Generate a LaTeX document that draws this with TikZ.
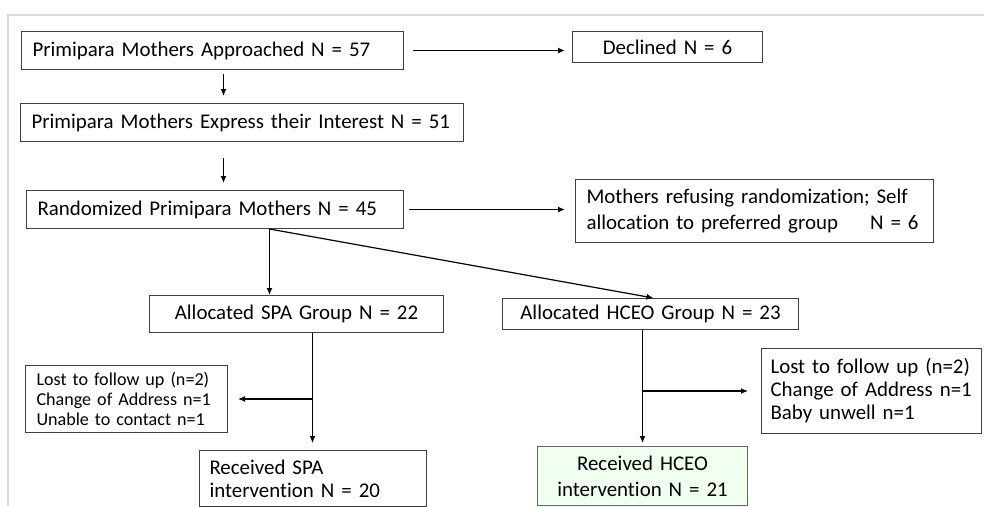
\documentclass[tikz,border=0pt]{standalone}
\usepackage{fontspec}
\setmainfont{Carlito}[Ligatures=NoCommon]
\usetikzlibrary{arrows.meta}
\begin{document}
\begin{tikzpicture}[x=1pt, y=-1pt, >={Latex[length=7pt,width=6pt]},
		main/.style = {draw=black!75, line width=1pt, inner xsep=11pt, inner ysep=0pt, anchor=north west, font=\fontsize{20.9}{26}\selectfont},
		small/.style = {main, font=\fontsize{18.1}{20}\selectfont},
		flow/.style = {->, line width=1.2pt}]
		\useasboundingbox (0,0) rectangle (984,506);
		\draw[black!15, line width=1.5pt] (8,506) -- (8,15) -- (984,15);
		\node[main, text width=360pt, minimum height=38pt, align=left] (0) at (21,31) {Primipara Mothers Approached N = 57};
		\node[main, text width=168pt, minimum height=31pt, align=center] (1) at (572,31) {Declined N = 6};
		\node[main, text width=421pt, minimum height=38pt, align=left] (2) at (20,103) {Primipara Mothers Express their Interest N = 51};
		\node[main, text width=355pt, minimum height=38pt, align=left] (3) at (26,190) {Randomized Primipara Mothers N = 45};
		\node[main, text width=336pt, minimum height=63pt, align=left] (4) at (575,179) {Mothers refusing randomization; Self\\allocation to preferred group \hspace{1.2em}N = 6};
		\node[main, text width=272pt, minimum height=37pt, align=center] (5) at (149,295) {Allocated SPA Group N = 22};
		\node[main, text width=274pt, minimum height=31pt, align=center] (6) at (502,298) {Allocated HCEO Group N = 23};
		\node[small, text width=180pt, minimum height=67pt, align=left] (7) at (25,365) {Lost to follow up (n=2)\\Change of Address n=1\\Unable to contact n=1};
		\node[main, inner xsep=10pt, text width=207pt, minimum height=56pt, align=left, font=\fontsize{20.9}{23}\selectfont] (8) at (199,450) {Received SPA\\intervention N = 20};
		\node[main, inner xsep=9pt, text width=202pt, minimum height=85pt, align=left, font=\fontsize{20.9}{23}\selectfont] (9) at (761,348) {Lost to follow up (n=2)\\Change of Address n=1\\Baby unwell n=1};
		\node[main, inner xsep=10pt, text width=190pt, minimum height=59pt, align=center, fill=green!6, draw=black!60] (10) at (537,446) {Received HCEO\\intervention N = 21};
		\draw[flow, shorten <=9pt, shorten >=7pt] (0.east) -- (0.east -| 1.west);
		\draw[flow, shorten <=4pt, shorten >=7pt] ([xshift=11pt]0.south) -- ([xshift=11pt]0.south |- 2.north);
		\draw[flow, shorten <=16pt, shorten >=7pt] ([xshift=11pt]2.south -| 0.south) -- ([xshift=11pt]0.south |- 3.north);
		\draw[flow, shorten <=5pt, shorten >=10pt] (3.east) -- (3.east -| 4.west);
		\draw[flow] ([xshift=54.5pt]3.south) -- ([xshift=54.5pt]3.south |- 5.north);
		\draw[flow] ([xshift=54.5pt]3.south) -- ([xshift=3pt]6.north);
		\draw[flow, shorten >=7pt] ([xshift=16pt]5.south) -- ([xshift=16pt]5.south |- 8.north);
		\draw[flow, shorten >=10pt] ([xshift=16pt]5.south |- 7.east) -- (7.east);
		\draw[flow, shorten >=3pt] ([xshift=-8pt]6.south) -- ([xshift=-8pt]6.south |- 10.north);
		\draw[flow, shorten >=13pt] ([xshift=-8pt]6.south |- 9.west) -- (9.west);
	\end{tikzpicture}
\end{document}
